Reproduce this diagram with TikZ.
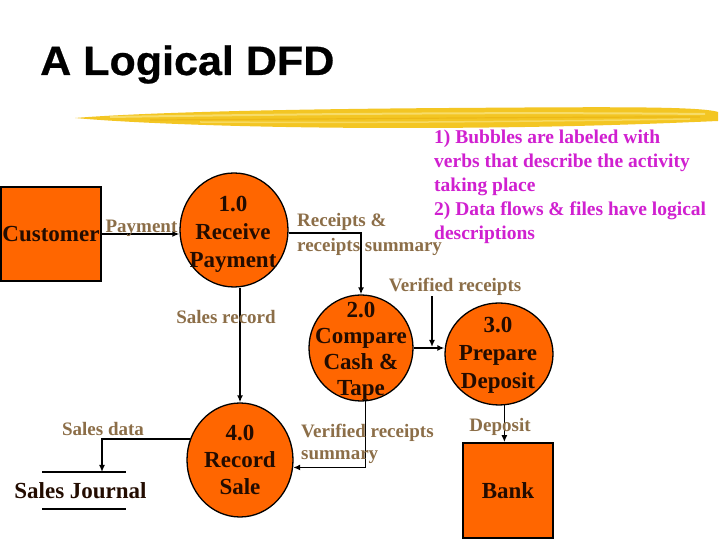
\documentclass[tikz,border=0pt]{standalone}
\usepackage{fontspec}
\setmainfont{Liberation Serif}
\newfontfamily\titlefont[FakeStretch=1.05,FakeBold=0.6]{Liberation Sans}
\usetikzlibrary{shapes.geometric,arrows.meta}
\definecolor{orng}{RGB}{255,102,0}
\definecolor{ink}{RGB}{35,12,0}
\definecolor{lbrown}{RGB}{140,110,72}
\definecolor{note}{RGB}{208,32,208}
\definecolor{brushY}{RGB}{243,198,35}
\definecolor{brushL}{RGB}{249,226,122}
\definecolor{brushD}{RGB}{232,176,16}
\tikzset{
  ent/.style={draw=black, line width=1.6pt, fill=orng, inner sep=0pt,
    font=\fontsize{23}{28}\selectfont\bfseries, text=ink},
  bubble/.style={ellipse, draw=black, line width=1.3pt, fill=orng, inner sep=0pt},
  btext/.style={font=\fontsize{23}{28}\selectfont\bfseries, text=ink, align=center, inner sep=0pt},
  lbl/.style={font=\fontsize{19}{24}\selectfont\bfseries, text=lbrown, inner sep=0pt},
  flow/.style={draw=black, line width=1.6pt, -{Latex[length=7pt,width=6pt]}},
  storeline/.style={draw=black, line width=1.8pt}
}
\begin{document}
\begin{tikzpicture}[x=1pt,y=1pt]
\useasboundingbox (0,0) rectangle (720,540);
\fill[white] (0,0) rectangle (720,540);

% title
\node[anchor=base west, inner sep=0pt, font=\titlefont\fontsize{41}{41}\selectfont\bfseries] (title) at (40,465) {A Logical DFD};

% brush stroke
\fill[brushY] (75,422) .. controls (150,428) and (300,431) .. (450,432)
  .. controls (600,433) and (700,434) .. (718,428) -- (718,419)
  .. controls (650,416) and (550,412) .. (400,412)
  .. controls (250,412) and (130,417) .. cycle;
\draw[brushL, line width=2pt, opacity=0.8] (110,423) .. controls (300,426) and (500,428) .. (705,426);
\draw[brushL, line width=1.5pt, opacity=0.7] (200,418) .. controls (350,417) and (500,418) .. (690,421);
\draw[brushD, line width=1.2pt, opacity=0.6] (150,420) .. controls (350,421) and (550,423) .. (700,423);

% notes
\node[anchor=north west, inner sep=0pt, align=left, text=note,
  font=\fontsize{19.5}{24}\selectfont\bfseries] (notes) at (434,410)
  {1) Bubbles are labeled with\\verbs that describe the activity\\taking place\\2) Data flows \& files have logical\\descriptions};

% external entities
\node[ent, minimum width=100pt, minimum height=94pt] (cust) at (51,306) {Customer};
\node[ent, minimum width=90pt, minimum height=95pt] (bank) at (508,49.5) {Bank};

% processes
\node[bubble, minimum width=108pt, minimum height=114pt] (p1) at (234,310) {};
\node[btext, anchor=north] (p1t) at (233,344) {1.0\\Receive\\Payment};
\node[bubble, minimum width=104pt, minimum height=106pt] (p2) at (361,192) {};
\node[btext, anchor=north, font=\fontsize{23}{26}\selectfont\bfseries] (p2t) at (361,238) {2.0\\Compare\\Cash \&\\Tape};
\node[bubble, minimum width=108pt, minimum height=102pt] (p3) at (499,186) {};
\node[btext, anchor=north] (p3t) at (498,223) {3.0\\Prepare\\Deposit};
\node[bubble, minimum width=106pt, minimum height=114pt] (p4) at (240,80) {};
\node[btext, anchor=north, font=\fontsize{23}{27}\selectfont\bfseries] (p4t) at (240,115) {4.0\\Record\\Sale};

% data store
\node[anchor=base, inner sep=0pt, font=\fontsize{23}{28}\selectfont\bfseries, text=ink] (sj) at (80.5,41) {Sales Journal};
\draw[storeline] (42,68) -- (126,68);
\draw[storeline] (42,31) -- (126,31);
\coordinate (sjin) at (102,68);

% flows
\draw[flow] (cust.east) -- (cust.east -| p1.west);
\draw[flow] (p1.-3) -| (p2.north);
\draw[flow] (p4.north |- p1.south) -- (p4.north);
\draw[flow] (p2.east) -- (p2.east -| p3.west);
\draw[flow] (p2.-85) |- (p4.-8);
\draw[flow] (p4.157) -| (sjin);
\draw[flow] (p3.-84) -- (p3.-84 |- bank.north);

% labels
\node[lbl, anchor=base] (lpay) at (141.5,307) {Payment};
\node[lbl, anchor=north west, align=left, font=\fontsize{19}{25}\selectfont\bfseries] (lrec) at (297,326.5) {Receipts \&\\receipts summary};
\node[lbl, anchor=base] (lsr) at (226,216) {Sales record};
\node[lbl, anchor=base] (lvr) at (455,248) {Verified receipts};
\coordinate (vr) at (432,193);
\draw[flow] (lvr.south -| vr) -- (vr);
\node[lbl, anchor=base] (lsd) at (103,104) {Sales data};
\node[lbl, anchor=north west, align=left, font=\fontsize{19}{22}\selectfont\bfseries] (lvs) at (301,116.5) {Verified receipts\\summary};
\node[lbl, anchor=base] (ldep) at (500,108) {Deposit};
\end{tikzpicture}
\end{document}
